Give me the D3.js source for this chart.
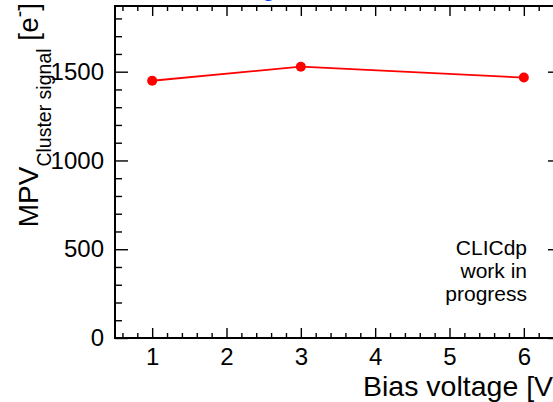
<!DOCTYPE html>
<html>
<head>
<meta charset="utf-8">
<script src="https://cdn.jsdelivr.net/npm/d3@7"></script>
<style>
  body { margin: 0; background: #fff; }
  svg { display: block; }
  text { font-family: "Liberation Sans", Arial, Helvetica, sans-serif; }
</style>
</head>
<body>
<script>
// data
var biasVoltage = [1, 3, 6];
var mpvSignal = [1449, 1528, 1467];
var xMajorTicks = [1, 2, 3, 4, 5, 6];
var yMajorTicks = [0, 500, 1000, 1500];
var noteLines = ["CLICdp", "work in", "progress"];

var width = 553;
var height = 402;

var frame = { left: 115, right: 561, top: 6, bottom: 338 };

var svg = d3.select('body').append('svg')
    .attr('width', width)
    .attr('height', height);

var x = d3.scaleLinear().domain([0.5, 6.5]).range([frame.left, frame.right]);
var y = d3.scaleLinear().domain([0, 1870]).range([frame.bottom, frame.top]);

var xMinor = d3.range(0.6, 6.5, 0.2).filter(function (v) {
    return Math.abs(v - Math.round(v)) > 1e-6;
});
var yMinor = d3.range(100, 1870, 100).filter(function (v) { return v % 500 !== 0; });

function styleAxis(g) {
    g.selectAll('path.domain').remove();
    g.selectAll('.tick line').attr('stroke', '#000').attr('stroke-width', 1.4);
    g.selectAll('.tick text').attr('fill', '#000').attr('font-size', 24);
}

// bottom
svg.append('g').attr('transform', 'translate(0,' + frame.bottom + ')')
    .call(d3.axisBottom(x).tickValues(xMajorTicks).tickSize(-10).tickPadding(10).tickFormat(d3.format('d')))
    .call(styleAxis);
svg.append('g').attr('transform', 'translate(0,' + frame.bottom + ')')
    .call(d3.axisBottom(x).tickValues(xMinor).tickSize(-5).tickFormat(''))
    .call(styleAxis);
// top
svg.append('g').attr('transform', 'translate(0,' + frame.top + ')')
    .call(d3.axisTop(x).tickValues(xMajorTicks).tickSize(-10).tickFormat(''))
    .call(styleAxis);
svg.append('g').attr('transform', 'translate(0,' + frame.top + ')')
    .call(d3.axisTop(x).tickValues(xMinor).tickSize(-5).tickFormat(''))
    .call(styleAxis);
// left
svg.append('g').attr('transform', 'translate(' + frame.left + ',0)')
    .call(d3.axisLeft(y).tickValues(yMajorTicks).tickSize(-13).tickPadding(11).tickFormat(d3.format('d')))
    .call(styleAxis);
svg.append('g').attr('transform', 'translate(' + frame.left + ',0)')
    .call(d3.axisLeft(y).tickValues(yMinor).tickSize(-7).tickFormat(''))
    .call(styleAxis);
// right
svg.append('g').attr('transform', 'translate(' + frame.right + ',0)')
    .call(d3.axisRight(y).tickValues(yMajorTicks).tickSize(-13).tickFormat(''))
    .call(styleAxis);
svg.append('g').attr('transform', 'translate(' + frame.right + ',0)')
    .call(d3.axisRight(y).tickValues(yMinor).tickSize(-7).tickFormat(''))
    .call(styleAxis);

svg.append('rect')
    .attr('x', frame.left).attr('y', frame.top)
    .attr('width', frame.right - frame.left).attr('height', frame.bottom - frame.top)
    .attr('fill', 'none').attr('stroke', '#000').attr('stroke-width', 2);

// series
var pts = biasVoltage.map(function (v, i) { return [v, mpvSignal[i]]; });

svg.append('path')
    .datum(pts)
    .attr('fill', 'none')
    .attr('stroke', '#ff0000')
    .attr('stroke-width', 1.8)
    .attr('d', d3.line().x(function (d) { return x(d[0]); }).y(function (d) { return y(d[1]); }));

svg.append('g').selectAll('circle')
    .data(pts)
    .enter().append('circle')
    .attr('cx', function (d) { return x(d[0]); })
    .attr('cy', function (d) { return y(d[1]); })
    .attr('r', 5)
    .attr('fill', '#ff0000');

// axis titles
svg.append('text')
    .attr('x', frame.right).attr('y', 396)
    .attr('text-anchor', 'end')
    .attr('font-size', 28.5)
    .text('Bias voltage [V]');

var yTitle = svg.append('text')
    .attr('transform', 'translate(38,' + 3 + ') rotate(-90)')
    .attr('text-anchor', 'end')
    .attr('font-size', 28);
yTitle.append('tspan').text('MPV');
yTitle.append('tspan').attr('font-size', 19.5).attr('dy', 13).text('Cluster signal');
yTitle.append('tspan').attr('dy', -13).text(' [e');
yTitle.append('tspan').attr('font-size', 19.5).attr('dy', -12).text('-');
yTitle.append('tspan').attr('dy', 12).text(']');

// note
svg.append('g').selectAll('text')
    .data(noteLines)
    .enter().append('text')
    .attr('x', 527)
    .attr('y', function (d, i) { return 255 + i * 23; })
    .attr('text-anchor', 'end')
    .attr('font-size', 21)
    .text(function (d) { return d; });

// cut-off blue legend text above the frame
svg.append('text')
    .attr('x', 262).attr('y', -4)
    .attr('font-size', 24)
    .attr('fill', '#0033ff')
    .text('g');
</script>
</body>
</html>
